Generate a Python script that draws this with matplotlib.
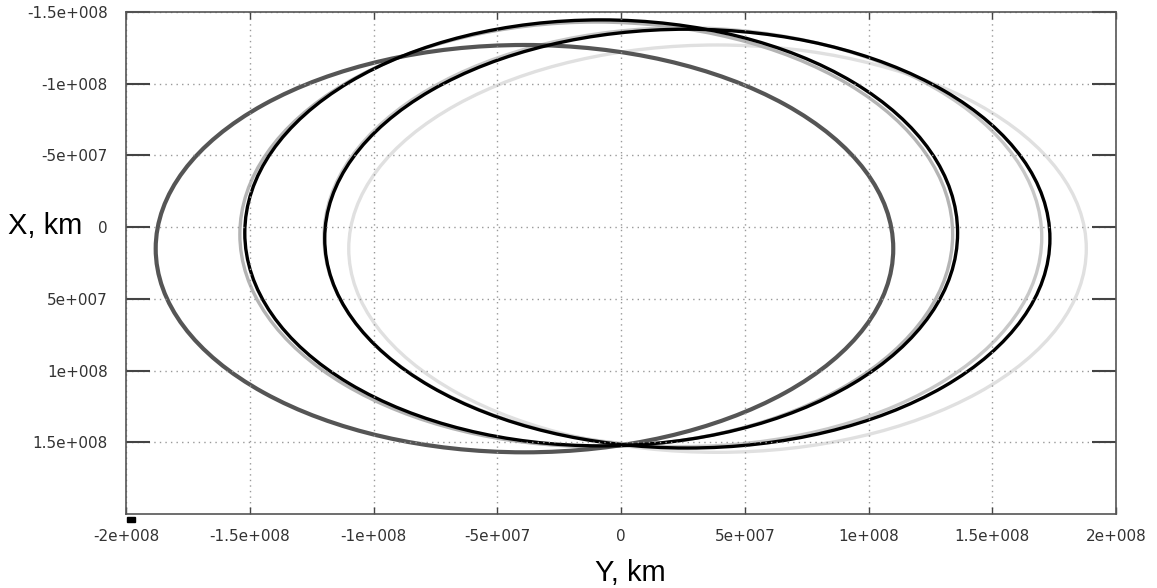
import numpy as np
import matplotlib
matplotlib.use('Agg')
import matplotlib.pyplot as plt
from matplotlib.patches import Ellipse, Rectangle

# orbit ellipses (km): centre, half widths, colour, width
# light ones first so the dark ones sit on top
orbit_cx = [0.39e8, 0.25e8, -0.10e8, -0.39e8, -0.08e8, 0.268e8]
orbit_cy = [0.15e8, 0.07e8, 0.05e8, 0.15e8, 0.04e8, 0.08e8]
orbit_ax = [1.49e8, 1.45e8, 1.44e8, 1.49e8, 1.44e8, 1.465e8]
orbit_by = [1.42e8, 1.46e8, 1.48e8, 1.42e8, 1.485e8, 1.46e8]
orbit_col = ['#e0e0e0', '#c8c8c8', '#b4b4b4', '#555555', '#000000', '#000000']
orbit_lw = [2.4, 2.4, 2.4, 3.0, 2.4, 2.4]

xticks = [-2e8, -1.5e8, -1e8, -5e7, 0, 5e7, 1e8, 1.5e8, 2e8]
xticklabels = ['-2e+008', '-1.5e+008', '-1e+008', '-5e+007', '0',
               '5e+007', '1e+008', '1.5e+008', '2e+008']
yticks = [-1.5e8, -1e8, -5e7, 0, 5e7, 1e8, 1.5e8]
yticklabels = ['-1.5e+008', '-1e+008', '-5e+007', '0',
               '5e+007', '1e+008', '1.5e+008']

fig = plt.figure(figsize=(11.57, 5.88), dpi=100)
ax = fig.add_axes([126/1157, 1-514/588, 990/1157, 502/588])

for cx, cy, a, b, c, lw in zip(orbit_cx, orbit_cy, orbit_ax, orbit_by, orbit_col, orbit_lw):
    ax.add_patch(Ellipse((cx, cy), 2*a, 2*b, fill=False, edgecolor=c, lw=lw))

ax.set_xlim(-2e8, 2e8)
ax.set_ylim(2e8, -1.5e8)

ax.set_xticks(xticks)
ax.set_xticklabels(xticklabels)
ax.set_yticks(yticks)
ax.set_yticklabels(yticklabels)
ax.tick_params(axis='both', direction='in', colors='#444444', labelcolor='#333333',
               labelsize=11)
ax.tick_params(axis='x', length=5, width=1, top=True, pad=11)
ax.tick_params(axis='y', length=17, width=1.5, right=True, pad=13)

ax.grid(True, linestyle=(0, (1, 3)), color='#999999', lw=1)
for s in ax.spines.values():
    s.set_color('#555555')
    s.set_linewidth(1.2)

fig.text(630/1157, 1-581/588, 'Y, km', fontsize=21, family='Liberation Sans',
         ha='center', va='baseline')
fig.text(8/1157, 1-226/588, 'X, km', fontsize=21, family='Liberation Sans',
         ha='left', va='center')

fig.patches.append(Rectangle((127/1157, 1-522/588), 8/1157, 5/588,
                             transform=fig.transFigure, color='black'))

fig.savefig('out.png', dpi=100)
